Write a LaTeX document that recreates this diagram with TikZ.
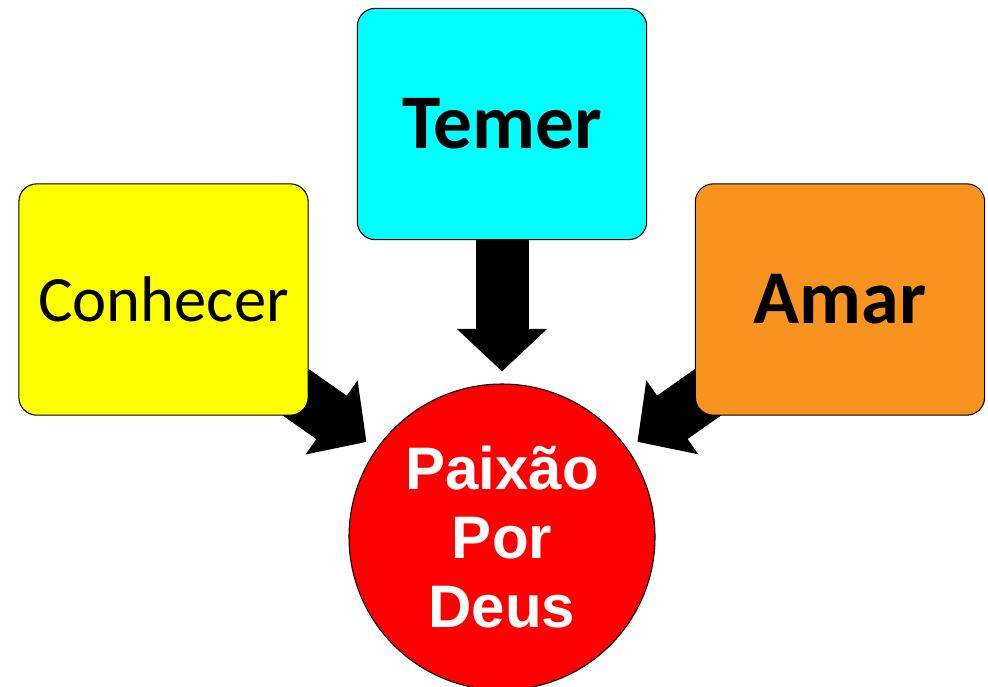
\documentclass[tikz,border=0pt]{standalone}
\usepackage{fontspec}
\setmainfont{Carlito}
\newfontfamily\arialfont{Liberation Sans}
\usetikzlibrary{arrows.meta, positioning}
\definecolor{conhecyellow}{RGB}{255,255,0}
\definecolor{temercyan}{RGB}{0,255,255}
\definecolor{amarorange}{HTML}{F7931E}
\definecolor{paixaored}{RGB}{255,0,0}

\begin{document}
\begin{tikzpicture}[x=0.75pt, y=-0.75pt,
  box/.style={draw=black, line width=0.8pt, rounded corners=13.5pt, minimum width=217pt, minimum height=173.5pt, inner sep=0pt},
  bigarrow/.style={line width=39.75pt, -{Triangle[length=32pt, width=66pt]}, shorten >=9pt}]
\useasboundingbox (0,0) rectangle (988,686);
\node[circle, draw=black, line width=0.8pt, fill=paixaored, minimum size=229.5pt, inner sep=0pt, text=white, align=center,
  font=\arialfont\bfseries\fontsize{45}{52}\selectfont] (paixao) at (502,537) {Paixão\\Por\\Deus};
\coordinate (conhecerc) at (163.5,299.5);
\coordinate (temerc) at (502,124);
\coordinate (amarc) at (840,299.5);
\draw[bigarrow] (conhecerc) -- (paixao);
\draw[bigarrow] (temerc) -- (paixao);
\draw[bigarrow] (amarc) -- (paixao);
\node[box, fill=conhecyellow, font=\fontsize{48.5}{58}\selectfont] (conhecer) at (conhecerc) {Conhecer};
\node[box, fill=temercyan, font=\bfseries\fontsize{58}{70}\selectfont] (temer) at (temerc) {Temer};
\node[box, fill=amarorange, font=\bfseries\fontsize{57}{68}\selectfont] (amar) at (amarc) {Amar};
\end{tikzpicture}
\end{document}
